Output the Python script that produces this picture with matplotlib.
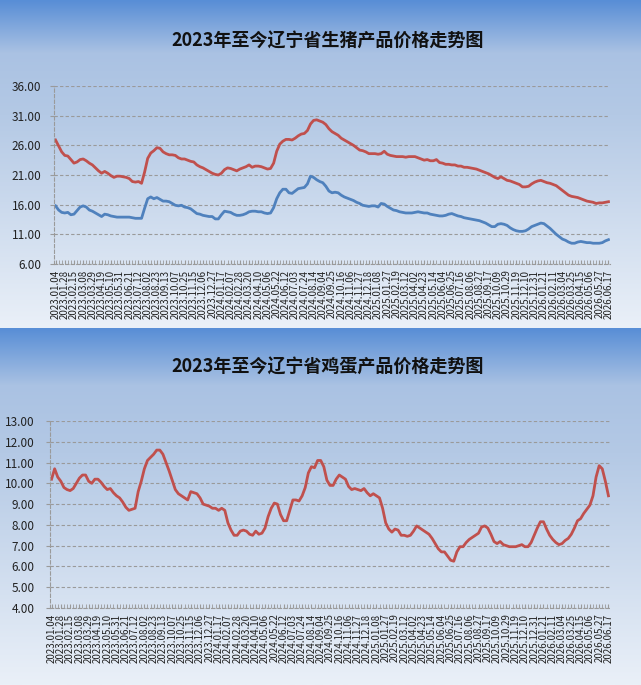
import numpy as np
import matplotlib
matplotlib.use("Agg")
import matplotlib.pyplot as plt
from matplotlib.ticker import FixedLocator, FormatStrFormatter

plt.rcParams["font.family"] = ["Noto Sans CJK SC", "DejaVu Sans"]

# ── Data ──────────────────────────────────────────────────────────────────────

# weekly points, a date label every 3rd week
DATE_LABELS = [
    "2023.01.04", "2023.01.28", "2023.02.15", "2023.03.08", "2023.03.29", "2023.04.19",
    "2023.05.10", "2023.05.31", "2023.06.21", "2023.07.12", "2023.08.02", "2023.08.23",
    "2023.09.13", "2023.10.07", "2023.10.25", "2023.11.15", "2023.12.06", "2023.12.27",
    "2024.01.17", "2024.02.07", "2024.02.28", "2024.03.20", "2024.04.10", "2024.05.06",
    "2024.05.22", "2024.06.12", "2024.07.03", "2024.07.24", "2024.08.14", "2024.09.04",
    "2024.09.25", "2024.10.16", "2024.11.06", "2024.11.27", "2024.12.18", "2025.01.08",
    "2025.01.27", "2025.02.19", "2025.03.12", "2025.04.02", "2025.04.23", "2025.05.14",
    "2025.06.04", "2025.06.25", "2025.07.16", "2025.08.06", "2025.08.27", "2025.09.17",
    "2025.10.09", "2025.10.29", "2025.11.19", "2025.12.10", "2025.12.31", "2026.01.21",
    "2026.02.11", "2026.03.04", "2026.03.25", "2026.04.15", "2026.05.06", "2026.05.27",
    "2026.06.17",
]

HOG_RED = [
    26.9, 25.9, 24.9, 24.3, 24.2, 23.6, 23.0, 23.2, 23.6, 23.7,
    23.4, 23.0, 22.7, 22.2, 21.7, 21.3, 21.6, 21.3, 20.9, 20.6,
    20.8, 20.8, 20.7, 20.6, 20.4, 19.9, 19.8, 19.9, 19.6, 21.5,
    23.8, 24.7, 25.1, 25.6, 25.5, 24.9, 24.6, 24.4, 24.4, 24.3,
    23.9, 23.7, 23.7, 23.5, 23.3, 23.2, 22.7, 22.4, 22.2, 21.9,
    21.6, 21.3, 21.1, 21.0, 21.3, 21.9, 22.2, 22.1, 21.9, 21.7,
    22.0, 22.2, 22.4, 22.7, 22.3, 22.5, 22.5, 22.4, 22.2, 22.0,
    22.1, 23.0, 25.0, 26.2, 26.7, 27.0, 27.0, 26.9, 27.2, 27.6,
    27.9, 28.0, 28.5, 29.6, 30.2, 30.3, 30.1, 29.9, 29.5, 28.8,
    28.3, 28.0, 27.7, 27.2, 26.9, 26.6, 26.3, 26.0, 25.6, 25.2,
    25.1, 24.9, 24.6, 24.6, 24.6, 24.5, 24.6, 25.0, 24.5, 24.3,
    24.2, 24.1, 24.1, 24.1, 24.0, 24.1, 24.1, 24.1, 23.9, 23.7,
    23.5, 23.6, 23.4, 23.4, 23.6, 23.1, 23.0, 22.8, 22.8, 22.7,
    22.7, 22.5, 22.5, 22.3, 22.3, 22.2, 22.1, 22.0, 21.8, 21.6,
    21.4, 21.2, 20.9, 20.6, 20.4, 20.7, 20.4, 20.1, 20.0, 19.8,
    19.6, 19.4, 19.0, 19.0, 19.1, 19.5, 19.8, 20.0, 20.1, 19.9,
    19.7, 19.6, 19.4, 19.2, 18.8, 18.4, 18.0, 17.6, 17.4, 17.3,
    17.2, 17.0, 16.8, 16.6, 16.5, 16.4, 16.2, 16.3, 16.3, 16.4,
    16.5,
]

HOG_BLUE = [
    15.8, 15.1, 14.7, 14.6, 14.7, 14.3, 14.4, 15.0, 15.6, 15.8,
    15.6, 15.1, 14.9, 14.6, 14.3, 14.0, 14.4, 14.3, 14.1, 14.0,
    13.9, 13.9, 13.9, 13.9, 13.9, 13.8, 13.7, 13.7, 13.7, 15.4,
    17.0, 17.3, 17.0, 17.2, 16.9, 16.6, 16.6, 16.5, 16.2, 15.9,
    15.8, 15.9, 15.6, 15.5, 15.3, 14.9, 14.5, 14.4, 14.2, 14.1,
    14.0, 14.0, 13.6, 13.6, 14.3, 14.9, 14.8, 14.7, 14.4, 14.2,
    14.2, 14.3, 14.5, 14.8, 14.9, 14.9, 14.8, 14.8, 14.6, 14.5,
    14.6, 15.5, 17.0, 18.0, 18.6, 18.6, 18.0, 17.9, 18.3, 18.7,
    18.8, 18.9, 19.5, 20.8, 20.6, 20.2, 19.9, 19.7, 19.1, 18.3,
    18.0, 18.1, 18.0, 17.6, 17.3, 17.1, 16.9, 16.7, 16.4, 16.2,
    15.9, 15.8, 15.7, 15.8, 15.8, 15.6, 16.2, 16.1, 15.7, 15.4,
    15.1, 15.0, 14.8, 14.7, 14.6, 14.6, 14.6, 14.7, 14.8, 14.7,
    14.6, 14.6, 14.4, 14.3, 14.2, 14.1, 14.1, 14.2, 14.4, 14.5,
    14.3, 14.1, 14.0, 13.8, 13.7, 13.6, 13.5, 13.4, 13.3, 13.1,
    12.9, 12.6, 12.3, 12.3, 12.7, 12.8, 12.7, 12.5, 12.1, 11.8,
    11.6, 11.5, 11.5, 11.6, 11.9, 12.3, 12.5, 12.7, 12.9, 12.8,
    12.4, 12.0, 11.5, 11.0, 10.6, 10.2, 10.0, 9.7, 9.5, 9.5,
    9.7, 9.8, 9.7, 9.6, 9.6, 9.5, 9.5, 9.5, 9.6, 9.9,
    10.1,
]

EGG = [
    10.2, 10.7, 10.3, 10.1, 9.8, 9.7, 9.65, 9.75, 10.0, 10.25,
    10.4, 10.4, 10.1, 10.0, 10.2, 10.2, 10.05, 9.85, 9.7, 9.75,
    9.55, 9.4, 9.3, 9.1, 8.85, 8.7, 8.75, 8.8, 9.6, 10.1,
    10.7, 11.1, 11.25, 11.4, 11.6, 11.6, 11.4, 11.0, 10.6, 10.15,
    9.7, 9.5, 9.4, 9.3, 9.2, 9.6, 9.55, 9.5, 9.3, 9.0,
    8.95, 8.9, 8.8, 8.8, 8.7, 8.8, 8.7, 8.1, 7.75, 7.5,
    7.5, 7.7, 7.75, 7.7, 7.55, 7.5, 7.7, 7.55, 7.6, 7.85,
    8.4, 8.8, 9.05, 9.0, 8.5, 8.2, 8.2, 8.7, 9.2, 9.2,
    9.15, 9.4, 9.8, 10.5, 10.8, 10.75, 11.1, 11.1, 10.8, 10.15,
    9.9, 9.9, 10.2, 10.4, 10.3, 10.2, 9.85, 9.7, 9.75, 9.7,
    9.65, 9.75, 9.55, 9.4, 9.5, 9.4, 9.3, 8.8, 8.1, 7.8,
    7.65, 7.8, 7.75, 7.5, 7.5, 7.45, 7.5, 7.7, 7.95, 7.85,
    7.75, 7.65, 7.55, 7.35, 7.1, 6.85, 6.7, 6.7, 6.5, 6.3,
    6.25, 6.7, 6.95, 6.95, 7.15, 7.3, 7.4, 7.5, 7.6, 7.9,
    7.95, 7.85, 7.55, 7.2, 7.1, 7.2, 7.05, 7.0, 6.95, 6.95,
    6.95, 7.0, 7.05, 6.95, 6.95, 7.15, 7.5, 7.85, 8.15, 8.15,
    7.8, 7.5, 7.3, 7.15, 7.05, 7.1, 7.25, 7.35, 7.55, 7.85,
    8.2, 8.3, 8.55, 8.75, 8.95, 9.4, 10.3, 10.85, 10.7, 10.1,
    9.4,
]

HOG_YTICKS = [6, 11, 16, 21, 26, 31, 36]
EGG_YTICKS = [4, 5, 6, 7, 8, 9, 10, 11, 12, 13]

TITLE_HOG = "2023年至今辽宁省生猪产品价格走势图"
TITLE_EGG = "2023年至今辽宁省鸡蛋产品价格走势图"

RED = "#c0504d"
BLUE = "#4f81bd"
GRID = "#9a9a9a"

W, H = 641, 685


# ── Background ────────────────────────────────────────────────────────────────

def panel_gradient(n_rows):
    """Blue-to-white vertical fade used behind each chart."""
    stops = [0.0, 0.16, 0.35, 1.0]
    cols = np.array([[88, 142, 214], [170, 194, 227], [180, 201, 229], [234, 240, 248]]) / 255
    t = np.linspace(0, 1, n_rows)
    return np.stack([np.interp(t, stops, cols[:, c]) for c in range(3)], axis=1)


def draw_background(fig, split_px=328):
    top = panel_gradient(split_px)
    bottom = panel_gradient(H - split_px)
    img = np.vstack([top, bottom])[:, None, :]
    bg = fig.add_axes([0, 0, 1, 1], zorder=-10)
    bg.imshow(img, aspect="auto", extent=[0, 1, 0, 1])
    bg.axis("off")


# ── Charts ────────────────────────────────────────────────────────────────────

def style_axes(ax, yticks, ypad):
    n = len(EGG)
    ax.set_facecolor("none")
    ax.set_xlim(-0.5, n - 0.5)
    ax.set_ylim(yticks[0], yticks[-1])
    ax.yaxis.set_major_locator(FixedLocator(yticks))
    ax.yaxis.set_major_formatter(FormatStrFormatter("%.2f"))
    ax.grid(axis="y", color=GRID, linestyle=(0, (3, 2)), linewidth=0.8)
    for side in ("top", "right"):
        ax.spines[side].set_visible(False)
    for side in ("left", "bottom"):
        ax.spines[side].set_color(GRID)
        ax.spines[side].set_linestyle((0, (3, 2)))
        ax.spines[side].set_linewidth(0.8)

    label_pos = list(range(0, n, 3))
    ax.xaxis.set_major_locator(FixedLocator(label_pos))
    ax.xaxis.set_minor_locator(FixedLocator(range(n)))
    ax.set_xticklabels(DATE_LABELS, rotation=90, fontsize=7, color="#222222")
    ax.tick_params(axis="x", which="both", direction="in", length=3, color=GRID, pad=4)
    ax.tick_params(axis="y", length=3, color=GRID, labelsize=8.5, labelcolor="#222222", pad=ypad)


fig = plt.figure(figsize=(W / 100, H / 100), dpi=100)
draw_background(fig)

x = np.arange(len(HOG_RED))

# top: hog prices
ax1 = fig.add_axes([54 / W, 1 - 264 / H, 556 / W, 178 / H])
ax1.plot(x, HOG_RED, color=RED, linewidth=2.0)
ax1.plot(x, HOG_BLUE, color=BLUE, linewidth=2.0)
style_axes(ax1, HOG_YTICKS, 6)
fig.text(328 / W, 1 - 41 / H, TITLE_HOG, ha="center", va="center",
         fontsize=13, fontweight="bold", color="#111111")

# bottom: egg prices
ax2 = fig.add_axes([50 / W, 1 - 608 / H, 560 / W, 187 / H])
ax2.plot(x, EGG, color=RED, linewidth=2.0)
style_axes(ax2, EGG_YTICKS, 8)
fig.text(328 / W, 1 - 367 / H, TITLE_EGG, ha="center", va="center",
         fontsize=13, fontweight="bold", color="#111111")

fig.savefig("out.png", dpi=100)
plt.close(fig)
